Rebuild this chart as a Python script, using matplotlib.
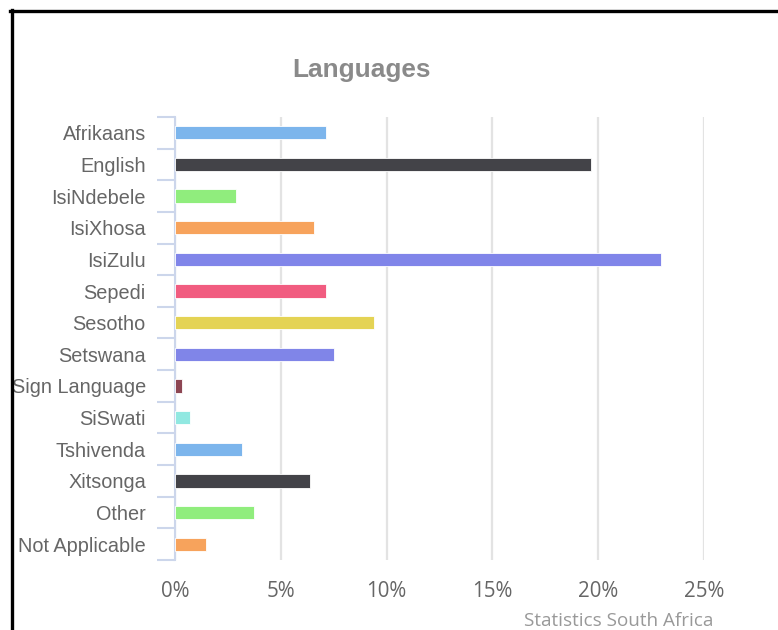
import matplotlib.pyplot as plt
from matplotlib.lines import Line2D
from matplotlib.ticker import FuncFormatter

languages = ['Afrikaans', 'English', 'IsiNdebele', 'IsiXhosa', 'IsiZulu', 'Sepedi',
             'Sesotho', 'Setswana', 'Sign Language', 'SiSwati', 'Tshivenda',
             'Xitsonga', 'Other', 'Not Applicable']
shares = [7.14, 19.67, 2.88, 6.57, 22.98, 7.14, 9.41, 7.52, 0.33, 0.70, 3.17,
          6.38, 3.74, 1.47]

# highcharts default palette, wraps around after 10
palette = ['#7cb5ec', '#434348', '#90ed7d', '#f7a35c', '#8085e9',
           '#f15c80', '#e4d354', '#8085e8', '#8d4653', '#91e8e1']
colors = [palette[i % len(palette)] for i in range(len(languages))]

W, H = 778, 630
fig = plt.figure(figsize=(W / 100, H / 100), dpi=100)
ax = fig.add_axes([175 / W, 1 - 560 / H, (704 - 175) / W, (560 - 117) / H])

pos = list(range(len(languages)))
ax.barh(pos, shares, height=0.42, color=colors, edgecolor='white', linewidth=0.6, zorder=3)

ax.set_xlim(0, 25)
ax.set_ylim(len(languages) - 0.5, -0.5)
ax.set_xticks([0, 5, 10, 15, 20, 25])
ax.xaxis.set_major_formatter(FuncFormatter(lambda v, p: f'{v:.0f}%'))
ax.grid(axis='x', color='#e3e3e3', linewidth=1.6, zorder=0)

ax.set_yticks(pos)
ax.set_yticklabels(languages)
ax.set_yticks([p - 0.5 for p in pos] + [len(languages) - 0.5], minor=True)
ax.tick_params(axis='y', which='major', length=0, pad=21, labelsize=14.3,
               labelcolor='#666666')
ax.tick_params(axis='y', which='minor', length=13, width=1.5, color='#ccd6eb')
for lab in ax.get_yticklabels():
    lab.set_family('Liberation Sans')
ax.tick_params(axis='x', length=0, pad=15, labelsize=14.8, labelcolor='#666666')
for lab in ax.get_xticklabels():
    lab.set_family('Open Sans')

for s in ['top', 'right', 'bottom']:
    ax.spines[s].set_visible(False)
ax.spines['left'].set_color('#ccd6eb')
ax.spines['left'].set_linewidth(1.5)

fig.text(362 / W, 1 - 70 / H, 'Languages', ha='center', va='center', fontsize=18.9,
         fontweight='bold', color='#8a8a8a', family='Liberation Sans')
fig.text(713 / W, 1 - 621 / H, 'Statistics South Africa', ha='right', va='center',
         fontsize=13.6, color='#999999', family='Open Sans')

# black frame on top and left
fig.add_artist(Line2D([10 / W, 1], [1 - 10.5 / H, 1 - 10.5 / H], color='black', lw=2.4))
fig.add_artist(Line2D([11.5 / W, 11.5 / W], [0, 1 - 9.5 / H], color='black', lw=2.4))

fig.savefig('out.png', dpi=100)
